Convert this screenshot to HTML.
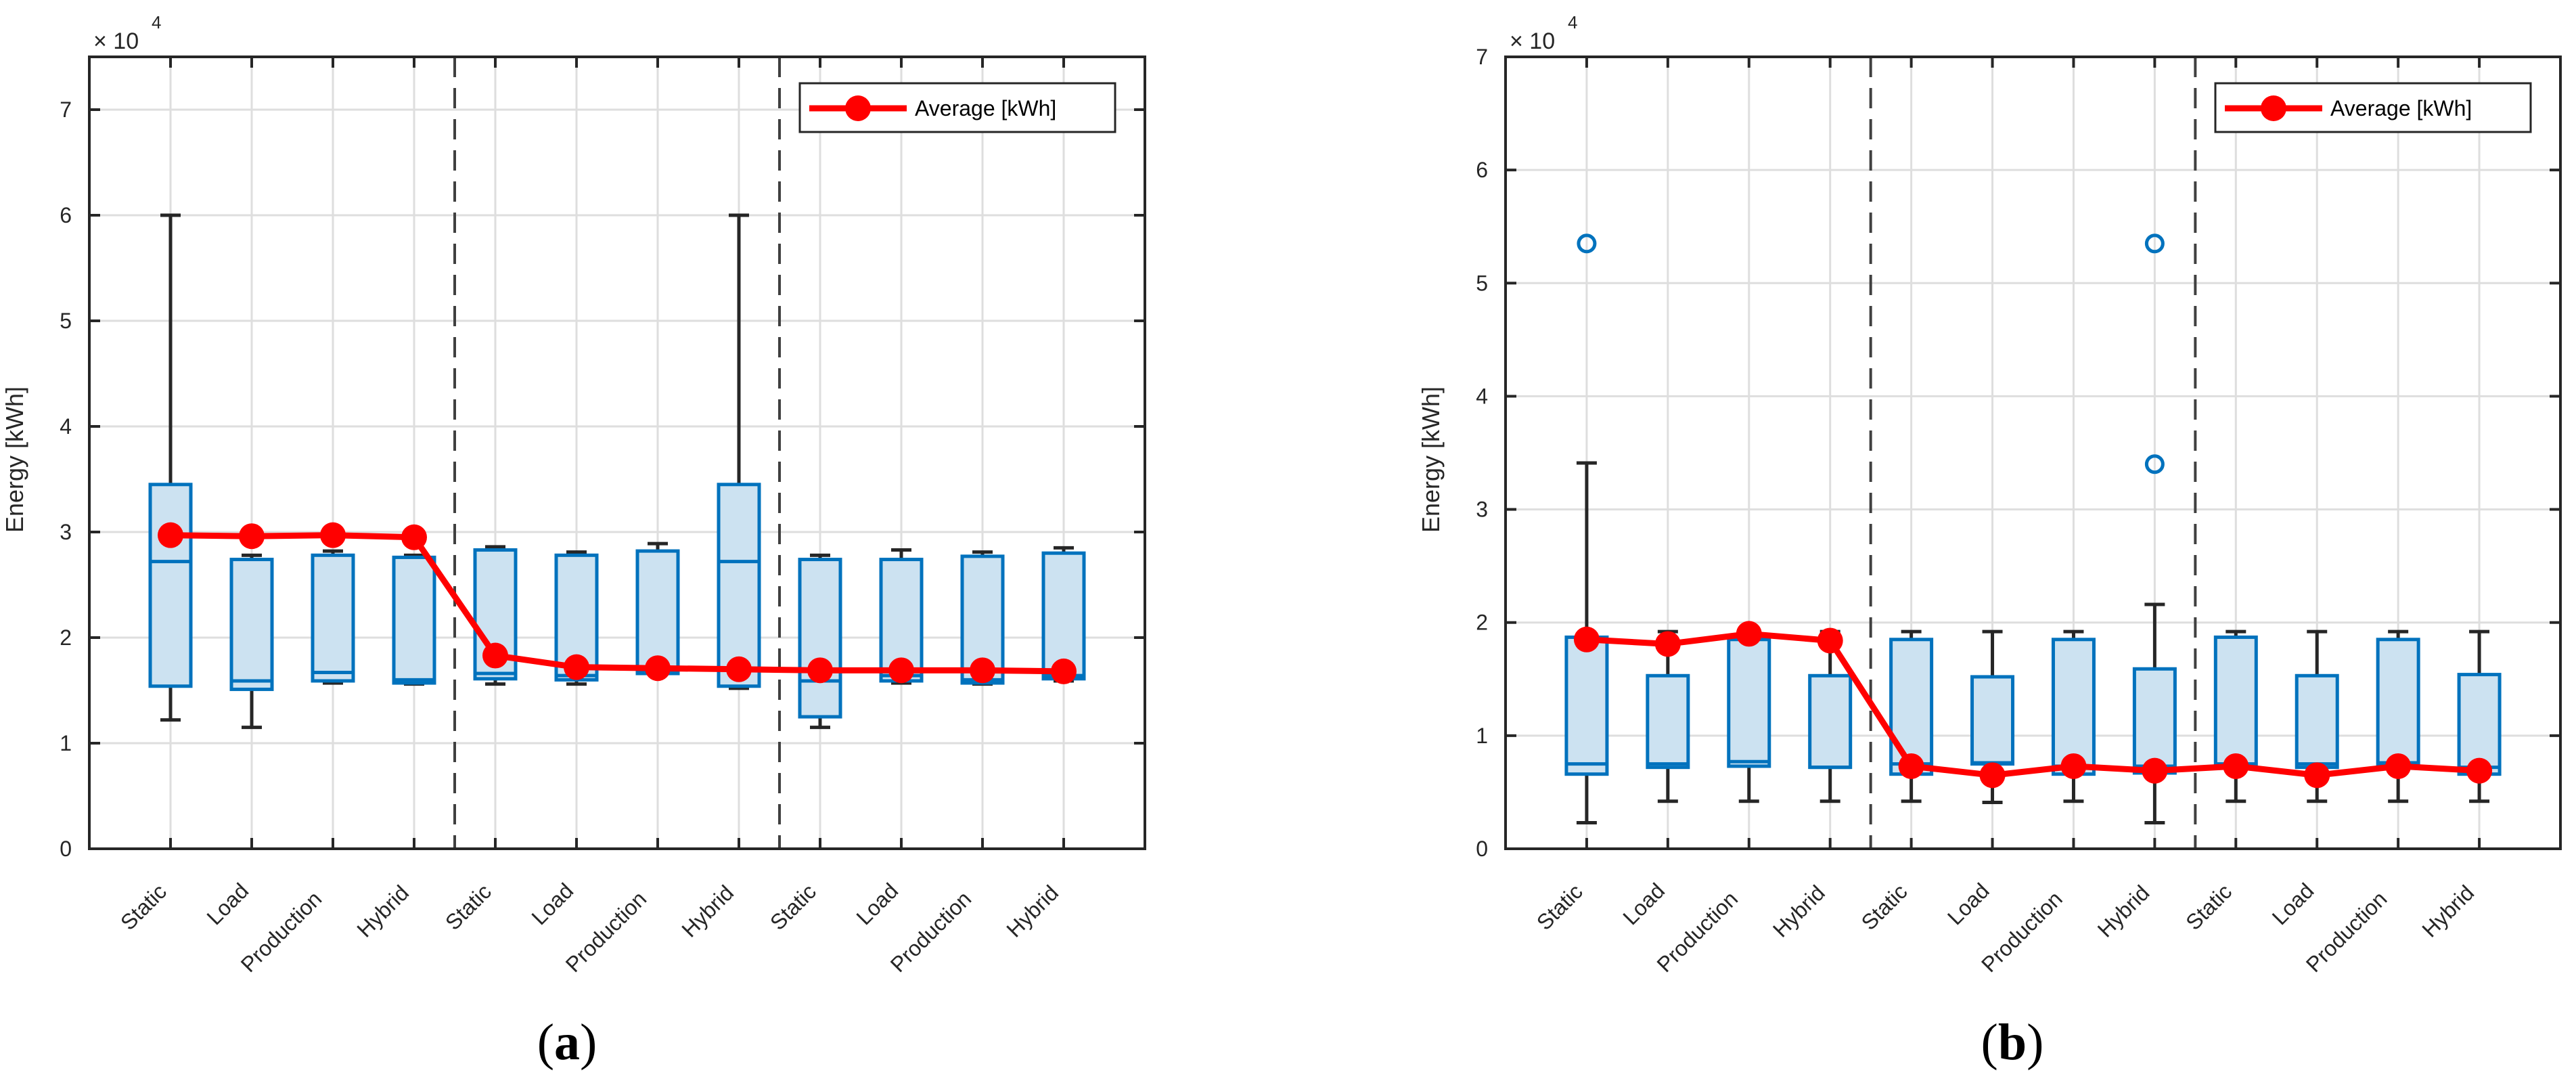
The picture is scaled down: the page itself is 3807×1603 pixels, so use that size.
<!DOCTYPE html>
<html><head><meta charset="utf-8"><style>
html,body{margin:0;padding:0;background:#fff;}
svg{display:block;font-family:"Liberation Sans",Arial,sans-serif;}
</style></head><body>
<svg id="fig" width="3807" height="1603" viewBox="0 0 3807 1603" xmlns="http://www.w3.org/2000/svg"></svg>
<script>
const categories = ["Static","Load","Production","Hybrid","Static","Load","Production","Hybrid","Static","Load","Production","Hybrid"];
// Panel (a) values in units of 1e4 kWh
const aLow  = [1.22,1.15,1.57,1.56,1.56,1.56,1.66,1.52,1.15,1.57,1.56,1.59];
const aQ1   = [1.54,1.51,1.59,1.57,1.61,1.60,1.66,1.54,1.25,1.59,1.57,1.61];
const aMed  = [2.72,1.59,1.67,1.60,1.66,1.64,1.69,2.72,1.59,1.64,1.60,1.64];
const aQ3   = [3.45,2.74,2.78,2.76,2.83,2.78,2.82,3.45,2.74,2.74,2.77,2.80];
const aHigh = [6.00,2.78,2.82,2.78,2.86,2.81,2.89,6.00,2.78,2.83,2.81,2.85];
const aMean = [2.97,2.96,2.97,2.95,1.83,1.72,1.71,1.70,1.69,1.69,1.69,1.68];
const aOut  = [[],[],[],[],[],[],[],[],[],[],[],[]];
// Panel (b)
const bLow  = [0.23,0.42,0.42,0.42,0.42,0.41,0.42,0.23,0.42,0.42,0.42,0.42];
const bQ1   = [0.66,0.72,0.73,0.72,0.66,0.75,0.66,0.67,0.72,0.72,0.73,0.66];
const bMed  = [0.75,0.75,0.77,0.72,0.75,0.76,0.73,0.73,0.75,0.75,0.76,0.72];
const bQ3   = [1.87,1.53,1.85,1.53,1.85,1.52,1.85,1.59,1.87,1.53,1.85,1.54];
const bHigh = [3.41,1.92,1.92,1.92,1.92,1.92,1.92,2.16,1.92,1.92,1.92,1.92];
const bMean = [1.85,1.81,1.90,1.84,0.73,0.65,0.73,0.69,0.73,0.65,0.73,0.69];
const bOut  = [[5.35],[],[],[],[],[],[],[3.40,5.35],[],[],[],[]];
const aTicks = [0,1,2,3,4,5,6,7];
const bTicks = [0,1,2,3,4,5,6,7];

const NS="http://www.w3.org/2000/svg";
const svg=document.getElementById('fig');
function mk(tag,attrs,parent){const e=document.createElementNS(NS,tag);for(const k in attrs)e.setAttribute(k,attrs[k]);(parent||svg).appendChild(e);return e;}

function panel(id,L,R,T,B,ymax,ticks,low,q1,med,q3,high,mean,outs,letter,letterX){
  const g=mk('g',{});
  
  
  const xs=i=>L+(R-L)*(i+1)/13;
  const ys=v=>B-(B-T)*v/ymax;
  ticks.forEach(t=>{const l=mk('line',{x1:L,x2:R,y1:ys(t),y2:ys(t),stroke:'#dedede','stroke-width':3},g);
    });
  categories.forEach((c,i)=>{const l=mk('line',{x1:xs(i),x2:xs(i),y1:T,y2:B,stroke:'#dedede','stroke-width':3},g);
    });
  [4.5,8.5].forEach(p=>{const x=L+(R-L)*p/13;const l=mk('line',{x1:x,x2:x,y1:T,y2:B,stroke:'#404040','stroke-width':4,'stroke-dasharray':'30,16'},g);
    });
  categories.forEach((c,i)=>{
    const x=xs(i),bw=30,cw=15;
    const bg=mk('g',{},g);
    
    
    mk('line',{x1:x,x2:x,y1:ys(q3[i]),y2:ys(high[i]),stroke:'#262626','stroke-width':5},bg);
    mk('line',{x1:x,x2:x,y1:ys(q1[i]),y2:ys(low[i]),stroke:'#262626','stroke-width':5},bg);
    mk('line',{x1:x-cw,x2:x+cw,y1:ys(high[i]),y2:ys(high[i]),stroke:'#262626','stroke-width':5},bg);
    mk('line',{x1:x-cw,x2:x+cw,y1:ys(low[i]),y2:ys(low[i]),stroke:'#262626','stroke-width':5},bg);
    mk('rect',{x:x-bw,y:ys(q3[i]),width:2*bw,height:ys(q1[i])-ys(q3[i]),fill:'#cce2f1',stroke:'#0072BD','stroke-width':5},bg);
    mk('line',{x1:x-bw,x2:x+bw,y1:ys(med[i]),y2:ys(med[i]),stroke:'#0072BD','stroke-width':5},bg);
    outs[i].forEach(o=>{const c2=mk('circle',{cx:x,cy:ys(o),r:12,fill:'none',stroke:'#0072BD','stroke-width':5},bg);
      });
  });
  const pts=mean.map((m,i)=>xs(i)+','+ys(m)).join(' ');
  const pl=mk('polyline',{points:pts,fill:'none',stroke:'#ff0000','stroke-width':9,'stroke-linejoin':'round'},g);
  
  mean.forEach((m,i)=>{const c=mk('circle',{cx:xs(i),cy:ys(m),r:19,fill:'#ff0000'},g);
    });
  const ax=mk('rect',{x:L,y:T,width:R-L,height:B-T,fill:'none',stroke:'#262626','stroke-width':4},g);
  
  ticks.forEach(t=>{
    mk('line',{x1:L,x2:L+16,y1:ys(t),y2:ys(t),stroke:'#262626','stroke-width':4},g);
    mk('line',{x1:R,x2:R-16,y1:ys(t),y2:ys(t),stroke:'#262626','stroke-width':4},g);
    const tx=mk('text',{x:L-26,y:ys(t)+11,'text-anchor':'end','font-size':32,fill:'#262626'},g);
    tx.textContent=t;
    
  });
  categories.forEach((c,i)=>{
    const x=xs(i);
    mk('line',{x1:x,x2:x,y1:B,y2:B-16,stroke:'#262626','stroke-width':4},g);
    mk('line',{x1:x,x2:x,y1:T,y2:T+16,stroke:'#262626','stroke-width':4},g);
    const tx=mk('text',{'text-anchor':'middle','font-size':32,fill:'#262626',y:11},g);
    tx.textContent=c;
    
    const len=tx.getComputedTextLength();
    tx.setAttribute('transform',`translate(${x-len/2},${1300+len/2}) rotate(-45)`);
  });
  const ex=mk('text',{x:L+6,y:T-12,'font-size':34,fill:'#262626'},g);
  ex.textContent='× 10';
  
  const ex2=mk('text',{x:L+92,y:T-42,'font-size':26,fill:'#262626'},g);
  ex2.textContent='4';
  
  const yl=mk('text',{transform:`translate(${L-98},${(T+B)/2+10}) rotate(-90)`,'text-anchor':'middle','font-size':36,fill:'#262626'},g);
  yl.textContent='Energy [kWh]';
  
  const lg=mk('g',{},g);
  
  const lx=R-510;
  mk('rect',{x:lx,y:123,width:466,height:72,fill:'#fff',stroke:'#262626','stroke-width':3},lg);
  mk('line',{x1:lx+14,x2:lx+158,y1:160,y2:160,stroke:'#ff0000','stroke-width':9},lg);
  mk('circle',{cx:lx+86,cy:160,r:19,fill:'#ff0000'},lg);
  const lt=mk('text',{x:lx+170,y:171,'font-size':32,fill:'#000'},lg);
  lt.textContent='Average [kWh]';
  
  const lb=mk('text',{x:letterX,y:1565,'text-anchor':'middle','font-size':76,'font-family':'"Liberation Serif",serif',fill:'#000'},g);
  lb.innerHTML='(<tspan font-weight="bold">'+letter+'</tspan>)';
  
}
panel('a',132,1692,84,1254,7.5,aTicks,aLow,aQ1,aMed,aQ3,aHigh,aMean,aOut,'a',838);
panel('b',2225,3784,84,1254,7,bTicks,bLow,bQ1,bMed,bQ3,bHigh,bMean,bOut,'b',2974);
</script>
</body></html>
